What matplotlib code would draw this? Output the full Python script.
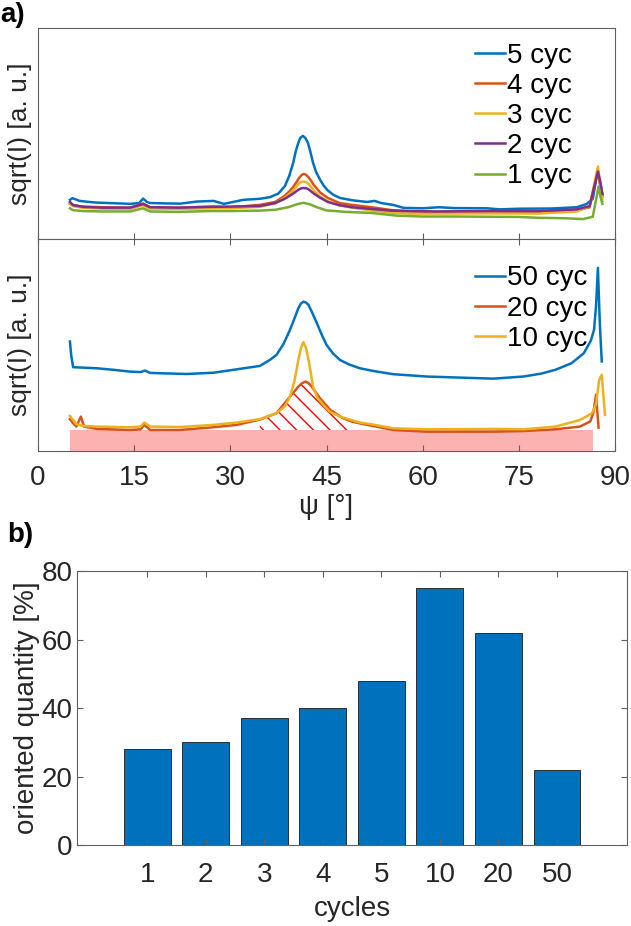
import numpy as np
import matplotlib
matplotlib.use('Agg')
import matplotlib.pyplot as plt

plt.rcParams['font.family'] = ['Liberation Sans', 'DejaVu Sans']
plt.rcParams['hatch.linewidth'] = 1.0

# ---- panel a, upper: short cycling (values in a.u., 0-100 of panel height)
x5 = [5.0, 5.4, 6.5, 8.0, 9.2, 11.0, 14.4, 15.8, 16.4, 17.0, 17.5, 20.0, 22.2, 24.8, 27.4, 29.0,
      32.0, 34.6, 36.2, 37.5, 38.5, 39.2, 39.8, 40.2, 40.6, 40.9, 41.3, 41.7, 42.1, 42.5, 42.9,
      43.4, 44.0, 44.5, 45.1, 46.0, 47.1, 49.0, 51.3, 52.5, 53.5, 55.4, 57.0, 60.0, 62.5, 65.0,
      70.0, 72.0, 75.0, 80.0, 84.0, 85.5, 86.5, 87.2, 87.6, 88.0]
y5 = [18.5, 19.3, 18.0, 17.5, 17.2, 17.0, 16.6, 17.0, 19.1, 17.5, 17.0, 16.8, 16.7, 17.7, 18.0, 16.6,
      18.5, 19.0, 19.8, 21.5, 25.0, 30.0, 36.0, 41.5, 45.5, 47.8, 48.8, 47.8, 45.5, 41.0, 36.0,
      31.5, 28.0, 25.5, 23.2, 21.0, 19.4, 18.3, 17.5, 18.0, 17.0, 16.1, 14.7, 14.5, 15.0, 14.6,
      14.5, 14.0, 14.3, 14.4, 15.0, 16.5, 19.0, 31.2, 28.0, 21.0]

x_mid = [5.0, 5.5, 7.0, 10.0, 14.4, 16.4, 17.5, 22.0, 27.0, 30.0, 34.6, 37.0, 38.5, 39.3, 39.8,
         40.3, 40.7, 41.1, 41.4, 41.8, 42.2, 42.6, 43.0, 44.0, 45.2, 47.0, 49.0, 52.0, 55.0, 58.0,
         62.0, 70.0, 78.0, 84.0, 86.0, 87.3, 87.6, 88.0]
y4 = [17.0, 16.0, 15.3, 15.0, 14.8, 16.8, 15.0, 14.8, 15.3, 15.0, 16.1, 17.5, 20.5, 22.8, 24.6,
      26.8, 28.8, 30.2, 30.8, 30.4, 29.2, 27.5, 25.6, 22.0, 19.4, 17.0, 16.1, 15.0, 13.7, 13.0,
      12.8, 12.8, 12.6, 13.5, 15.0, 32.4, 26.0, 20.0]
y3 = [16.5, 15.5, 14.7, 14.3, 14.2, 16.0, 14.4, 14.2, 14.5, 14.5, 15.2, 16.8, 19.5, 21.5, 23.0,
      24.8, 26.3, 27.0, 27.2, 27.0, 26.0, 24.6, 23.0, 20.0, 17.8, 15.8, 14.8, 13.5, 12.4, 12.0,
      12.0, 12.1, 12.0, 13.0, 15.5, 34.3, 28.0, 18.0]
y2 = [17.5, 16.0, 15.2, 14.8, 14.8, 16.5, 15.0, 14.8, 15.2, 15.3, 15.6, 17.0, 19.0, 20.5, 21.5,
      22.6, 23.5, 24.0, 24.1, 24.0, 23.5, 22.5, 21.5, 19.5, 17.5, 16.0, 15.0, 14.2, 13.4, 13.2,
      13.0, 13.2, 13.2, 14.0, 15.5, 31.9, 28.0, 21.3]

x1 = [5.0, 5.5, 7.0, 10.0, 14.4, 16.4, 17.5, 22.0, 27.0, 30.0, 34.6, 37.0, 39.0, 40.5, 41.4, 42.3,
      43.5, 45.0, 48.0, 52.0, 56.0, 60.0, 65.0, 70.0, 75.0, 78.0, 82.0, 85.0, 86.5, 87.4, 87.7, 88.0]
y1 = [14.5, 13.6, 13.2, 13.0, 13.0, 14.5, 13.0, 12.8, 13.2, 13.2, 13.4, 13.8, 15.0, 16.5, 17.1, 16.5,
      15.0, 13.5, 12.8, 12.3, 11.0, 10.6, 10.6, 10.5, 10.4, 10.0, 9.8, 9.4, 10.5, 24.8, 20.0, 16.6]

# ---- panel a, lower: long cycling
x50 = [5.0, 5.2, 5.5, 7.0, 9.2, 12.0, 14.4, 16.0, 16.7, 17.5, 19.6, 23.2, 27.4, 31.0, 34.6, 36.2,
       37.2, 38.3, 39.3, 40.0, 40.6, 41.0, 41.4, 41.8, 42.2, 42.8, 43.5, 44.3, 45.0, 46.0, 47.1,
       48.5, 50.2, 52.5, 55.4, 60.6, 65.8, 71.0, 75.7, 78.5, 80.7, 83.2, 85.1, 86.2, 86.7, 87.0,
       87.3, 87.6, 87.9]
y50 = [51.6, 45.0, 39.5, 39.3, 39.0, 38.2, 37.4, 37.2, 37.9, 36.8, 36.6, 36.3, 36.9, 38.5, 40.1, 43.0,
       45.3, 50.5, 57.1, 62.5, 67.3, 69.5, 70.4, 70.0, 68.8, 65.0, 60.2, 54.5, 50.0, 46.0, 42.9,
       40.8, 39.0, 37.6, 36.2, 35.1, 34.6, 34.1, 35.1, 36.5, 38.3, 41.4, 46.1, 52.0, 57.2, 68.0,
       86.3, 60.0, 42.2]

x10 = [5.0, 5.4, 6.0, 7.1, 9.2, 14.4, 16.0, 16.6, 17.5, 22.2, 27.4, 31.0, 34.6, 37.2, 38.5, 39.3,
       40.0, 40.6, 41.0, 41.4, 41.8, 42.2, 42.9, 43.6, 44.5, 45.5, 47.1, 50.2, 51.8, 55.4, 60.6,
       71.0, 75.7, 80.7, 84.5, 86.4, 87.0, 87.5, 87.9, 88.4]
y10 = [16.5, 15.0, 12.6, 11.8, 11.5, 11.2, 11.5, 13.4, 11.5, 11.3, 12.3, 13.4, 15.0, 17.8, 21.0, 25.6,
       33.0, 42.9, 48.5, 51.3, 48.5, 42.9, 30.3, 25.0, 21.7, 18.5, 16.2, 13.4, 12.7, 10.7, 10.2,
       10.4, 10.2, 11.5, 14.6, 17.8, 22.0, 33.5, 35.9, 17.0]

x20 = [5.0, 5.4, 6.0, 6.7, 7.2, 9.2, 14.4, 16.0, 16.6, 17.5, 22.2, 27.4, 31.0, 34.6, 37.2, 39.3,
       40.6, 41.2, 41.7, 42.2, 42.7, 44.0, 45.6, 47.6, 49.0, 50.2, 55.4, 60.6, 71.0, 75.7, 80.7,
       84.5, 86.1, 86.6, 87.0, 87.4]
y20 = [15.0, 13.4, 11.5, 16.2, 11.5, 10.4, 9.9, 10.2, 12.3, 9.9, 9.9, 11.2, 12.3, 14.8, 17.8, 25.6,
       30.3, 32.0, 32.7, 32.0, 30.3, 24.8, 19.3, 15.4, 13.8, 13.0, 9.9, 9.1, 9.1, 9.4, 10.2,
       11.5, 13.9, 18.0, 26.5, 11.0]

band_x = [5.0, 86.6]      # unoriented background
band_top = 9.9
hatch_range = (34.6, 49.0)  # oriented part of 20 cyc

# ---- panel b
cycles = ['1', '2', '3', '4', '5', '10', '20', '50']
oriented = [28, 30, 37, 40, 48, 75, 62, 22]

c_blue = '#0072BD'
c_orange = '#D95319'
c_yellow = '#EDB120'
c_purple = '#7E2F8E'
c_green = '#77AC30'
axcol = '#606060'
txtcol = '#262626'
fs = 20

fig = plt.figure(figsize=(6.31, 9.26), dpi=100)
ax1 = fig.add_axes([0.060, 0.742, 0.915, 0.228])
ax2 = fig.add_axes([0.060, 0.513, 0.915, 0.229])
ax3 = fig.add_axes([0.122, 0.0875, 0.872, 0.2955])

lw = 1.8
ax1.plot(x5, y5, color=c_blue, lw=lw, label='5 cyc')
ax1.plot(x_mid, y4, color=c_orange, lw=lw, label='4 cyc')
ax1.plot(x_mid, y3, color=c_yellow, lw=lw, label='3 cyc')
ax1.plot(x_mid, y2, color=c_purple, lw=lw, label='2 cyc')
ax1.plot(x1, y1, color=c_green, lw=lw, label='1 cyc')

ax2.fill_between(band_x, 0, band_top, color='#fdb2b2', lw=0, zorder=1)
hx = [x for x in x20 if hatch_range[0] <= x <= hatch_range[1]]
hy = [y for x, y in zip(x20, y20) if hatch_range[0] <= x <= hatch_range[1]]
ax2.fill_between(hx, band_top, hy, facecolor='none', edgecolor='red', hatch='\\\\', lw=0, zorder=1.5)
ax2.plot(x50, y50, color=c_blue, lw=lw, label='50 cyc', zorder=2)
ax2.plot(x20, y20, color=c_orange, lw=lw, label='20 cyc', zorder=2)
ax2.plot(x10, y10, color=c_yellow, lw=lw, label='10 cyc', zorder=2)

for ax in (ax1, ax2):
    ax.set_xlim(0, 90)
    ax.set_ylim(0, 100)
    ax.set_yticks([])
    ax.set_xticks(np.arange(0, 91, 15))
    ax.set_ylabel('sqrt(I) [a. u.]', fontsize=19, color=txtcol)
    ax.yaxis.set_label_coords(-0.01, 0.5)
    for s in ax.spines.values():
        s.set_color(axcol)
        s.set_linewidth(0.8)
    ax.legend(loc='upper left', frameon=False, fontsize=fs, handlelength=1.1,
              handletextpad=0.05, labelspacing=0.15, borderpad=0, borderaxespad=0)

ax1.get_legend().set_bbox_to_anchor((0.757, 0.93))
ax2.get_legend().set_bbox_to_anchor((0.757, 0.875))

ax1.tick_params(axis='x', direction='in', length=4, color=axcol, labelbottom=False)
ax2.tick_params(axis='x', direction='in', length=4, color=axcol, top=True,
                labelsize=fs, labelcolor=txtcol, pad=10)
ax2.set_xlabel('ψ [°]', fontsize=fs, color=txtcol, labelpad=2)

ax3.bar(np.arange(1, 9), oriented, width=0.8, color=c_blue, edgecolor='#1a1a1a', lw=0.6)
ax3.set_xticks(np.arange(1, 9))
ax3.set_xticklabels(cycles)
ax3.set_xlim(-0.2, 9.2)
ax3.set_ylim(0, 80)
ax3.set_yticks([0, 20, 40, 60, 80])
ax3.tick_params(direction='in', length=4, color=axcol, top=True, right=True,
                labelsize=fs, labelcolor=txtcol, pad=3)
ax3.tick_params(axis='x', pad=12)
for s in ax3.spines.values():
    s.set_color(axcol)
    s.set_linewidth(0.8)
ax3.set_xlabel('cycles', fontsize=fs, color=txtcol, labelpad=6)
ax3.set_ylabel('oriented quantity [%]', fontsize=fs, color=txtcol, labelpad=1)

fig.text(0.0, 0.998, 'a)', fontsize=20, fontweight='bold', va='top', ha='left')
fig.text(0.012, 0.436, 'b)', fontsize=20, fontweight='bold', va='top', ha='left')

fig.savefig('out.png', dpi=100)
